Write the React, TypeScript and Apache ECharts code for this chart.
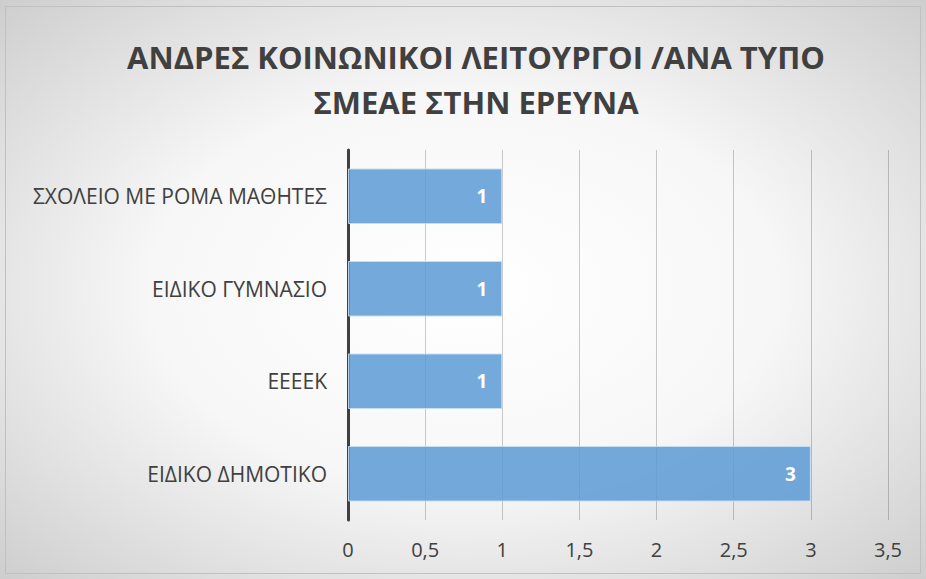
import React, { useEffect, useRef } from "react";
import * as echarts from "echarts";

const categories = ["ΕΙΔΙΚΟ ΔΗΜΟΤΙΚΟ", "ΕΕΕΕΚ", "ΕΙΔΙΚΟ ΓΥΜΝΑΣΙΟ", "ΣΧΟΛΕΙΟ ΜΕ ΡΟΜΑ ΜΑΘΗΤΕΣ"];
const values = [3, 1, 1, 1];
const titleLines = ["ΑΝΔΡΕΣ ΚΟΙΝΩΝΙΚΟΙ ΛΕΙΤΟΥΡΓΟΙ /ΑΝΑ ΤΥΠΟ", "ΣΜΕΑΕ ΣΤΗΝ ΕΡΕΥΝΑ"];

export default function App() {
  const ref = useRef<HTMLDivElement>(null);
  useEffect(() => {
    if (!ref.current) return;
    const chart = echarts.init(ref.current, null, { renderer: "svg" });
    const font = "'Open Sans', 'Noto Sans', sans-serif";
    chart.setOption({
      animation: false,
      backgroundColor: {
        type: "radial",
        x: 0.5,
        y: 0.5,
        r: 0.75,
        colorStops: [
          { offset: 0, color: "#ffffff" },
          { offset: 0.45, color: "#f7f7f7" },
          { offset: 1, color: "#c9c9c9" },
        ],
      },
      title: {
        text: titleLines.join("\n"),
        left: 471,
        top: 29,
        textAlign: "center",
        textStyle: {
          fontFamily: font,
          fontWeight: "bold",
          fontSize: 31,
          lineHeight: 45,
          color: "#404040",
        },
      },
      graphic: [
        {
          type: "rect",
          shape: { x: 5.5, y: 6.5, width: 915, height: 567 },
          style: { fill: "none", stroke: "#c0c0c0", lineWidth: 1 },
          silent: true,
        },
      ],
      grid: { left: 348, right: 38, top: 150, bottom: 59, containLabel: false },
      xAxis: {
        type: "value",
        min: 0,
        max: 3.5,
        interval: 0.5,
        axisLine: { show: false },
        axisTick: { show: false },
        splitLine: { show: true, lineStyle: { color: "rgba(0,0,0,0.2)", width: 1 } },
        axisLabel: {
          fontFamily: font,
          fontSize: 20,
          color: "#404040",
          margin: 19,
          formatter: (v: number) => String(v).replace(".", ","),
        },
      },
      yAxis: {
        type: "category",
        data: categories,
        axisLine: { show: true, lineStyle: { color: "#404040", width: 3 } },
        axisTick: { show: false },
        axisLabel: {
          fontFamily: font,
          fontSize: 21,
          color: "#404040",
          margin: 21,
        },
      },
      series: [
        {
          type: "bar",
          data: values,
          barCategoryGap: "40%",
          itemStyle: {
            color: "rgba(91,155,213,0.85)",
            borderColor: "rgba(200,222,243,0.9)",
            borderWidth: 1,
          },
          label: {
            show: true,
            position: "insideRight",
            distance: 15,
            color: "#ffffff",
            fontFamily: font,
            fontWeight: "bold",
            fontSize: 19,
          },
        },
      ],
    });
    return () => chart.dispose();
  }, []);
  return (
    <div
      ref={ref}
      style={{ position: "absolute", left: 0, top: 0, width: 926, height: 579 }}
    />
  );
}
